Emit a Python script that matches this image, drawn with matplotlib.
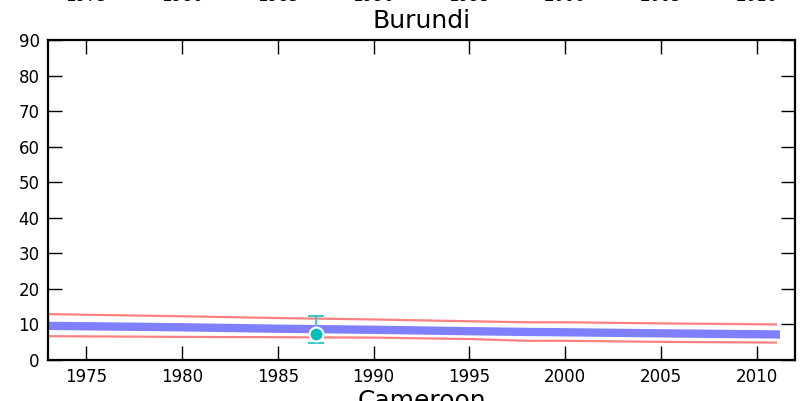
import matplotlib.pyplot as plt
import matplotlib.transforms as mtransforms

# series
years = [1973, 1980, 1985, 1990, 1995, 1998, 2000, 2005, 2011]
upper = [12.9, 12.3, 11.8, 11.4, 10.9, 10.6, 10.6, 10.3, 10.0]
middle = [9.6, 9.2, 8.8, 8.5, 8.1, 7.9, 7.8, 7.5, 7.2]
lower = [6.7, 6.5, 6.4, 6.3, 5.9, 5.4, 5.4, 5.1, 4.9]

obs_year = [1987]
obs_value = [7.4]
obs_err_low = [2.7]
obs_err_high = [5.1]

xticks = [1975, 1980, 1985, 1990, 1995, 2000, 2005, 2010]
yticks = [0, 10, 20, 30, 40, 50, 60, 70, 80, 90]

W, H = 803, 401
fig = plt.figure(figsize=(W / 100, H / 100), dpi=100)
ax = fig.add_axes([48 / W, (H - 360) / H, 747 / W, 320 / H])

ax.plot(years, upper, color='#ff8080', lw=1.6, solid_capstyle='projecting')
ax.plot(years, lower, color='#ff8080', lw=1.6, solid_capstyle='projecting')
ax.plot(years, middle, color='#8080ff', lw=6, solid_capstyle='projecting')

ax.errorbar(obs_year, obs_value, yerr=[obs_err_low, obs_err_high], fmt='o',
            color='#00bfbf', ecolor='#40c8c8', elinewidth=1.5, capsize=6,
            capthick=1.5, ms=10, mec='white', mew=1.5, zorder=5)

ax.set_xlim(1973, 2012)
ax.set_ylim(0, 90)
ax.set_xticks(xticks)
ax.set_yticks(yticks)
ax.tick_params(direction='in', length=10, width=1, top=True, right=True,
               labelsize=12, pad=6, colors='black')
for s in ax.spines.values():
    s.set_linewidth(1.6)

ax.set_title('Burundi', fontsize=18, pad=9)

# bits of the neighbouring panels that show at the edges
trans = mtransforms.blended_transform_factory(ax.transData, fig.transFigure)
for yr in xticks:
    fig.text(yr, 1 - 1.2 / H, str(yr), transform=trans, ha='center',
             va='baseline', fontsize=12)
fig.text((48 + 795) / 2 / W, 1 - 389.5 / H, 'Cameroon', ha='center',
         va='top', fontsize=18)

fig.savefig('out.png', dpi=100)
